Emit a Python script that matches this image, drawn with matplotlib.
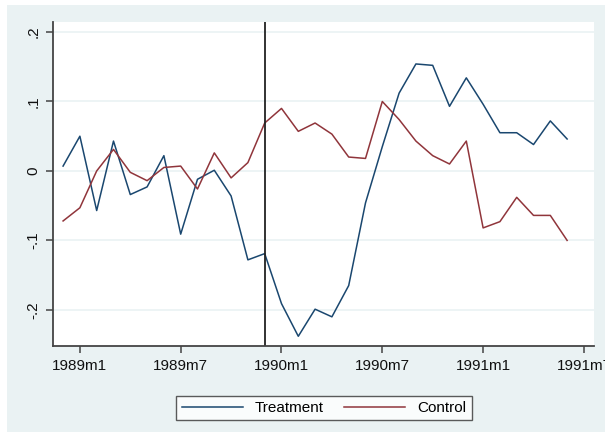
import numpy as np
import matplotlib.pyplot as plt
from matplotlib.patches import Rectangle

# months since 1989m1 (0 = 1989m1), 1988m12 .. 1991m6
months = np.arange(-1, 30)

treatment = [0.007, 0.050, -0.057, 0.043, -0.034, -0.023, 0.022, -0.091,
             -0.012, 0.001, -0.036, -0.128, -0.119, -0.191, -0.238, -0.199,
             -0.210, -0.165, -0.046, 0.035, 0.112, 0.154, 0.152, 0.093,
             0.134, 0.096, 0.055, 0.055, 0.038, 0.072, 0.046]
control = [-0.072, -0.053, 0.000, 0.031, -0.002, -0.014, 0.005, 0.007,
           -0.026, 0.026, -0.010, 0.012, 0.069, 0.090, 0.057, 0.069,
           0.053, 0.020, 0.018, 0.100, 0.074, 0.043, 0.022, 0.010,
           0.043, -0.082, -0.073, -0.038, -0.064, -0.064, -0.100]

xtick_pos = [0, 6, 12, 18, 24, 30]
xtick_labels = ['1989m1', '1989m7', '1990m1', '1990m7', '1991m1', '1991m7']
ytick_pos = [-0.2, -0.1, 0, 0.1, 0.2]
ytick_labels = ['-.2', '-.1', '0', '.1', '.2']
policy_month = 11  # 1989m12

plt.rcParams['font.family'] = ['Liberation Sans', 'DejaVu Sans']

W, H = 605, 440
fig = plt.figure(figsize=(W / 100, H / 100), dpi=100, facecolor='white')
bg = '#EAF2F3'
# Stata-style graph region behind the plot
fig.patches.append(Rectangle((7 / W, 1 - 432 / H), (W - 7) / W, (432 - 5) / H,
                             transform=fig.transFigure, facecolor=bg,
                             edgecolor='none', zorder=-10))

ax = fig.add_axes([53 / W, 1 - 346 / H, (594 - 53) / W, (346 - 22) / H])
ax.set_zorder(1)
ax.set_facecolor('white')

ax.plot(months, treatment, color='#1A476F', lw=1.1, label='Treatment')
ax.plot(months, control, color='#90353B', lw=1.1, label='Control')
ax.axvline(policy_month, color='#222222', lw=1.3)

ax.set_xlim(-1.6, 30.6)
ax.set_ylim(-0.252, 0.2144)
ax.set_xticks(xtick_pos)
ax.set_xticklabels(xtick_labels, fontsize=11)
ax.set_yticks(ytick_pos)
ax.set_yticklabels(ytick_labels, fontsize=11, rotation=90, va='center')
ax.grid(axis='y', color=bg, lw=1.2)
ax.set_axisbelow(True)

for s in ['top', 'right']:
    ax.spines[s].set_visible(False)
for s in ['left', 'bottom']:
    ax.spines[s].set_color('#444444')
    ax.spines[s].set_linewidth(1.3)
ax.tick_params(axis='both', direction='out', length=5, width=1.1,
               color='#444444', labelcolor='#111111', pad=4)

leg = fig.legend(loc='center', bbox_to_anchor=(324 / W, 1 - 408 / H), ncol=2,
                 fontsize=11, frameon=True, fancybox=False, handlelength=4.0,
                 columnspacing=1.3, borderpad=0.35, handletextpad=0.8,
                 borderaxespad=0)
leg.get_frame().set_edgecolor('#333333')
leg.get_frame().set_linewidth(1.0)
leg.set_zorder(2)

fig.savefig('out.png', dpi=100, facecolor='white')
